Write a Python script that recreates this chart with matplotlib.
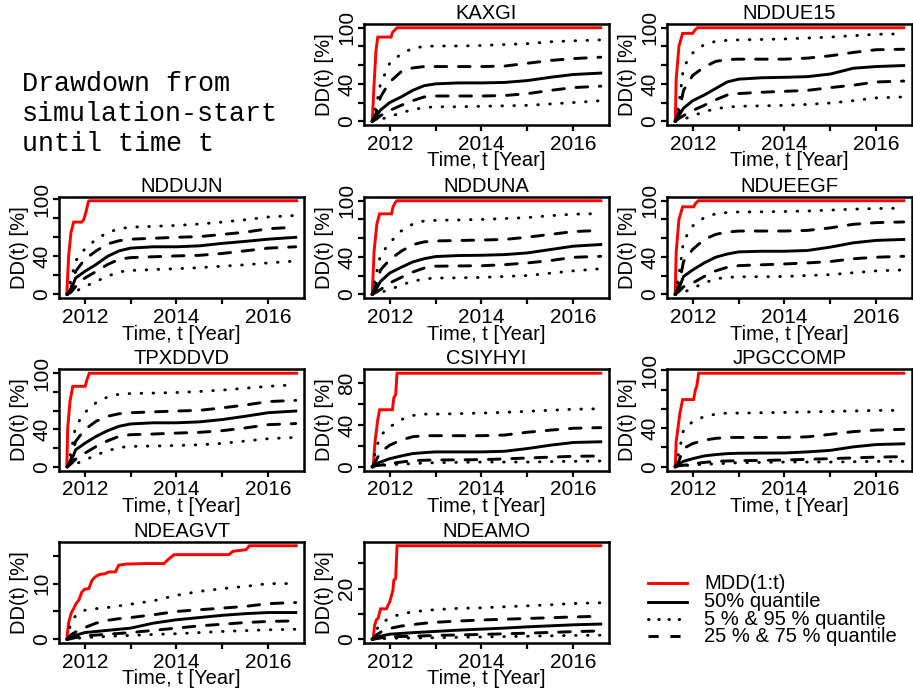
import matplotlib
matplotlib.use('Agg')
import matplotlib.pyplot as plt
from matplotlib.lines import Line2D

plt.rcParams['font.family'] = ['Liberation Sans', 'DejaVu Sans']

# ---------------- data ----------------
T = [2011.62, 2011.7, 2011.8, 2012.0, 2012.25, 2012.5, 2012.75, 2013.0,
     2013.5, 2014.0, 2014.5, 2015.0, 2015.5, 2016.0, 2016.6]

names = ["KAXGI", "NDDUE15", "NDDUJN", "NDDUNA", "NDUEEGF",
         "TPXDDVD", "CSIYHYI", "JPGCCOMP", "NDEAGVT", "NDEAMO"]

x_ticks = [2012, 2013, 2014, 2015, 2016]
x_labels = ["2012", "", "2014", "", "2016"]

# KAXGI
kaxgi_q05 = [0, 1, 2, 5, 9, 12.5, 14.5, 15.5, 15.5, 16, 16.5, 17, 18.5, 20, 22]
kaxgi_q25 = [0, 2, 6, 11.5, 17, 22, 26, 27, 27, 27, 27.5, 29.5, 33, 36, 37.5]
kaxgi_q50 = [0, 5, 12, 20, 26, 33, 38, 40, 41, 41, 41.5, 43.5, 47, 50, 51.5]
kaxgi_q75 = [0, 8, 26, 42, 53, 57, 58.5, 58.5, 58.5, 58.5, 59, 62, 65, 67, 68.5]
kaxgi_q95 = [0, 15, 40, 62, 72, 78, 80, 80.5, 80.5, 81, 82, 83, 85, 86, 87]
kaxgi_mdd_t = [2011.62, 2011.66, 2011.70, 2011.74, 2012.03, 2012.06, 2012.10, 2012.16, 2016.6]
kaxgi_mdd = [0, 40, 75, 90, 90, 95, 97, 100, 100]

# NDDUE15
nddue15_q05 = [0, 1, 2, 6, 10, 13.5, 15, 16, 16.5, 17, 18, 19.5, 22, 25, 26]
nddue15_q25 = [0, 3, 6, 11.5, 17, 23, 28, 29.6, 31, 32, 33, 36, 38.6, 42, 43]
nddue15_q50 = [0, 6, 14, 22, 28, 35, 42, 45, 46.5, 47, 47.7, 50.5, 56.7, 58.5, 59.6]
nddue15_q75 = [0, 10, 33, 49, 58, 64, 66, 66.4, 66.4, 66.4, 67.5, 70, 73.6, 76.5, 77]
nddue15_q95 = [0, 18, 58, 73, 82, 85.5, 86.5, 87, 87.5, 88, 89, 90, 91.5, 93, 93.5]
nddue15_mdd_t = [2011.62, 2011.64, 2011.70, 2011.78, 2012.0, 2012.04, 2012.10, 2016.6]
nddue15_mdd = [0, 45, 80, 94, 94, 97, 100, 100]

# NDDUJN
nddujn_q05 = [0, 1, 3, 8, 13.5, 19, 23.6, 25, 26, 27, 28, 29.6, 31, 33, 35]
nddujn_q25 = [0, 2, 8, 17, 24, 31.4, 36.8, 38.6, 39.5, 40.4, 41, 43, 45.7, 48.6, 50]
nddujn_q50 = [0, 4, 17, 24, 31.4, 40, 45.7, 48.6, 50, 50, 51, 53.6, 55.7, 58, 60]
nddujn_q75 = [0, 6, 24, 36.8, 45.7, 53, 56.4, 58, 59, 60, 60.7, 63, 65.4, 69, 70.7]
nddujn_q95 = [0, 15, 35, 47.5, 58, 65, 69, 70.7, 71.5, 72.5, 74, 76, 78.5, 81.4, 83]
nddujn_mdd_t = [2011.61, 2011.65, 2011.70, 2011.76, 2011.94, 2011.98, 2012.03, 2012.08, 2012.10, 2016.62]
nddujn_mdd = [0, 40, 65, 76, 76, 78.6, 87, 97.5, 98.5, 98.5]

# NDDUNA
ndduna_q05 = [0, 1, 2, 4.7, 10, 13.7, 16.5, 17.3, 17.6, 18, 19, 20, 22.5, 25, 27.3]
ndduna_q25 = [0, 2, 5, 12, 18, 23.7, 28, 30, 30.3, 30.5, 31.6, 33.5, 36, 39.5, 40.6]
ndduna_q50 = [0, 5, 13.7, 22.7, 28.8, 34.5, 38, 40.3, 41.4, 41.7, 42.4, 44.2, 47.8, 51.4, 53.2]
ndduna_q75 = [0, 10, 26, 37, 46, 53, 56, 57, 57.5, 58, 58.6, 61, 64, 67, 68.3]
ndduna_q95 = [0, 20, 42, 55, 67.6, 75, 78.4, 79, 79.5, 80, 81, 82, 84, 85.6, 86.3]
ndduna_mdd_t = [2011.62, 2011.66, 2011.72, 2011.78, 2012.04, 2012.07, 2012.12, 2012.16, 2016.6]
ndduna_mdd = [0, 46, 75, 86, 86, 93, 98, 100, 100]

# NDUEEGF
ndueegf_q05 = [0, 1, 2, 6.5, 12, 16.5, 18, 18.7, 18.8, 19, 20, 21, 23, 25, 26]
ndueegf_q25 = [0, 3, 8, 12, 19, 25, 28.8, 30.6, 31.5, 32.4, 33.5, 35, 38, 39.6, 40.6]
ndueegf_q50 = [0, 6, 19, 26, 33.5, 39.6, 43, 45.3, 46, 46, 46.8, 50.4, 55, 57.6, 58.6]
ndueegf_q75 = [0, 10, 35, 48, 58.6, 64, 66.5, 67.6, 67.6, 67.6, 68.3, 71, 74.8, 76.6, 77.3]
ndueegf_q95 = [0, 20, 57, 73, 82, 86, 87.4, 88, 88.2, 88.5, 89, 90, 91, 91.7, 92]
ndueegf_mdd_t = [2011.62, 2011.64, 2011.70, 2011.78, 2012.02, 2012.06, 2012.12, 2016.6]
ndueegf_mdd = [0, 45, 80, 93.5, 93.5, 97, 100, 100]

# TPXDDVD
tpxddvd_q05 = [0, 1, 3, 7, 12.6, 17, 20.6, 21.7, 22.2, 22.7, 23.5, 25, 27.5, 30, 31.4]
tpxddvd_q25 = [0, 3, 8, 14.4, 21.7, 27.8, 32.5, 34.3, 35, 36, 36.8, 38.6, 41.5, 45, 46.2]
tpxddvd_q50 = [0, 5, 18, 25, 32.5, 38.6, 43.3, 45.8, 47, 47, 48, 50.5, 54, 57.8, 59.6]
tpxddvd_q75 = [0, 8, 27, 39.7, 48.7, 54, 56.7, 57.8, 58.7, 59.6, 60.3, 63, 66, 69.7, 71]
tpxddvd_q95 = [0, 15, 43, 57.8, 68.6, 74.7, 77.6, 78.3, 78.8, 79.4, 80.5, 82, 84, 86, 87.7]
tpxddvd_mdd_t = [2011.61, 2011.63, 2011.68, 2011.74, 2012.01, 2012.05, 2012.10, 2016.62]
tpxddvd_mdd = [0, 41.5, 70, 86, 86, 93, 100, 100]

# CSIYHYI
csiyhyi_q05 = [0, 0.5, 1, 2, 2.5, 3, 3.5, 3.9, 4.2, 4.5, 4.5, 4.5, 4.9, 5.2, 5.5]
csiyhyi_q25 = [0, 1, 1.5, 3, 4.5, 5.8, 6.2, 6.5, 6.6, 6.8, 7.5, 8.4, 9.2, 10, 10.3]
csiyhyi_q50 = [0, 3, 4.5, 7.7, 10.3, 12.6, 13.5, 14.2, 14.2, 14.2, 14.8, 17.4, 20.6, 23.2, 23.9]
csiyhyi_q75 = [0, 6, 14, 20.6, 25.5, 28.7, 29.7, 29.7, 29.7, 29.7, 30.3, 33, 35, 36.8, 37.4]
csiyhyi_q95 = [0, 17, 30, 38, 45, 49, 50.3, 50.3, 50.8, 51.3, 52, 53, 54, 55, 55.5]
csiyhyi_mdd_t = [2011.64, 2011.68, 2011.74, 2011.78, 2012.06, 2012.09, 2012.13, 2012.16, 2016.6]
csiyhyi_mdd = [0, 24, 45, 54.5, 54.5, 66, 69, 89.4, 89.4]

# JPGCCOMP
jpgccomp_q05 = [0, 0.5, 1, 2, 2.5, 3, 3.6, 4.2, 4.5, 4.9, 4.9, 4.9, 5.2, 5.6, 5.6]
jpgccomp_q25 = [0, 1, 1.5, 3, 4.5, 5.6, 6, 6.3, 6.6, 7, 7.7, 8.4, 9.2, 10, 10.5]
jpgccomp_q50 = [0, 3, 5.6, 8.4, 11.2, 12.6, 13.6, 14, 14.2, 14.3, 15.4, 17, 20.6, 23, 23.8]
jpgccomp_q75 = [0, 6, 19, 24, 27.6, 29.4, 30.4, 30.4, 30.4, 30.4, 31, 33.6, 36.4, 38, 38.8]
jpgccomp_q95 = [0, 15, 38, 46.9, 52, 54.5, 55.6, 55.6, 56, 56.3, 56.8, 57.3, 57.8, 58.4, 58.4]
jpgccomp_mdd_t = [2011.62, 2011.64, 2011.72, 2011.78, 2012.02, 2012.06, 2012.09, 2012.13, 2016.6]
jpgccomp_mdd = [0, 26, 55, 69.6, 69.6, 80, 83.6, 96.9, 96.9]

# NDEAGVT
ndeagvt_q05 = [0, 0.05, 0.15, 0.3, 0.4, 0.5, 0.6, 0.7, 0.85, 1.0, 1.2, 1.4, 1.55, 1.7, 1.8]
ndeagvt_q25 = [0, 0.1, 0.3, 0.6, 0.75, 0.9, 1.05, 1.2, 1.6, 2.0, 2.4, 2.7, 3.0, 3.2, 3.3]
ndeagvt_q50 = [0, 0.3, 0.7, 1.2, 1.4, 1.6, 1.8, 2.0, 2.9, 3.5, 3.9, 4.3, 4.6, 4.8, 4.8]
ndeagvt_q75 = [0, 0.8, 1.3, 2.1, 2.9, 3.4, 3.7, 3.9, 4.4, 5.0, 5.3, 5.6, 5.9, 6.4, 6.6]
ndeagvt_q95 = [0, 3, 4.2, 5.2, 5.5, 5.7, 6.0, 6.3, 6.9, 7.9, 8.6, 9.1, 9.5, 10, 10]
ndeagvt_mdd_t = [2011.61, 2011.65, 2011.71, 2011.76, 2011.81, 2011.87, 2011.94, 2012.0, 2012.09,
                 2012.16, 2012.23, 2012.31, 2012.45, 2012.53, 2012.67, 2012.74, 2012.89, 2013.33,
                 2013.73, 2013.80, 2013.95, 2015.15, 2015.23, 2015.52, 2015.59, 2016.61]
ndeagvt_mdd = [0, 3, 4.8, 5.5, 6.4, 7, 8.5, 9, 9.1, 10.6, 11.2, 11.6, 11.8, 12.1, 12.1, 13.3,
               13.5, 13.6, 13.6, 14.2, 15.2, 15.2, 15.8, 16.1, 16.8, 16.8]

# NDEAMO
ndeamo_q05 = [0, 0.1, 0.2, 0.4, 0.45, 0.5, 0.55, 0.6, 0.75, 0.9, 1.05, 1.2, 1.35, 1.5, 1.6]
ndeamo_q25 = [0, 0.2, 0.5, 1.0, 1.1, 1.2, 1.35, 1.5, 1.7, 1.9, 2.15, 2.4, 2.7, 3.0, 3.3]
ndeamo_q50 = [0, 0.6, 1.2, 2.0, 2.3, 2.6, 2.85, 3.1, 3.6, 4.0, 4.4, 4.9, 5.3, 5.7, 6.0]
ndeamo_q75 = [0, 1.5, 2.8, 4.3, 5.2, 5.8, 6.3, 6.7, 7.2, 7.6, 7.9, 8.2, 8.5, 8.8, 9.1]
ndeamo_q95 = [0, 3.5, 6, 8.5, 10, 10.8, 11.3, 11.7, 12.2, 12.4, 12.8, 13.2, 13.6, 14.1, 14.4]
ndeamo_mdd_t = [2011.64, 2011.67, 2011.71, 2011.75, 2011.80, 2011.93, 2011.96, 2012.0, 2012.04,
                2012.07, 2012.09, 2012.13, 2012.16, 2016.6]
ndeamo_mdd = [0, 5.3, 7.7, 8.3, 12, 12, 13.3, 14.7, 17.3, 19.3, 23.3, 24, 36.9, 36.9]

# y tick values and which are labelled
yt_100 = [0, 20, 40, 60, 80, 100]
yl_100 = ["0", "", "40", "", "", "100"]
yt_80 = [0, 20, 40, 60, 80]
yl_80 = ["0", "", "40", "", "80"]
yt_15 = [0, 5, 10, 15]
yl_15 = ["0", "", "10", ""]
yt_30 = [0, 10, 20, 30]
yl_30 = ["0", "", "20", ""]

panels = [
    (kaxgi_mdd_t, kaxgi_mdd, kaxgi_q05, kaxgi_q25, kaxgi_q50, kaxgi_q75, kaxgi_q95, yt_100, yl_100),
    (nddue15_mdd_t, nddue15_mdd, nddue15_q05, nddue15_q25, nddue15_q50, nddue15_q75, nddue15_q95, yt_100, yl_100),
    (nddujn_mdd_t, nddujn_mdd, nddujn_q05, nddujn_q25, nddujn_q50, nddujn_q75, nddujn_q95, yt_100, yl_100),
    (ndduna_mdd_t, ndduna_mdd, ndduna_q05, ndduna_q25, ndduna_q50, ndduna_q75, ndduna_q95, yt_100, yl_100),
    (ndueegf_mdd_t, ndueegf_mdd, ndueegf_q05, ndueegf_q25, ndueegf_q50, ndueegf_q75, ndueegf_q95, yt_100, yl_100),
    (tpxddvd_mdd_t, tpxddvd_mdd, tpxddvd_q05, tpxddvd_q25, tpxddvd_q50, tpxddvd_q75, tpxddvd_q95, yt_100, yl_100),
    (csiyhyi_mdd_t, csiyhyi_mdd, csiyhyi_q05, csiyhyi_q25, csiyhyi_q50, csiyhyi_q75, csiyhyi_q95, yt_80, yl_80),
    (jpgccomp_mdd_t, jpgccomp_mdd, jpgccomp_q05, jpgccomp_q25, jpgccomp_q50, jpgccomp_q75, jpgccomp_q95, yt_100, yl_100),
    (ndeagvt_mdd_t, ndeagvt_mdd, ndeagvt_q05, ndeagvt_q25, ndeagvt_q50, ndeagvt_q75, ndeagvt_q95, yt_15, yl_15),
    (ndeamo_mdd_t, ndeamo_mdd, ndeamo_q05, ndeamo_q25, ndeamo_q50, ndeamo_q75, ndeamo_q95, yt_30, yl_30),
]

legend_labels = ["MDD(1:t)", "50% quantile", "5 % & 95 % quantile", "25 % & 75 % quantile"]
intro_text = "Drawdown from\nsimulation-start\nuntil time t"

# ---------------- layout ----------------
W, H = 913, 691
fig = plt.figure(figsize=(W / 100, H / 100), dpi=100)

cells = [(0, 1), (0, 2), (1, 0), (1, 1), (1, 2), (2, 0), (2, 1), (2, 2), (3, 0), (3, 1)]
col_left = [59, 364, 667]
row_top = [24, 197, 369.5, 542]
box_w, box_h = 245, 101
LW = 2.1
PX = 0.72  # points per pixel

dash_style = dict(dashes=(4, 4), dash_capstyle='round')
dot_style = dict(dashes=(0.2, 3.9), dash_capstyle='round')

for name, (r, c), p in zip(names, cells, panels):
    mt, mv, q05, q25, q50, q75, q95, yt, yl = p
    ax = fig.add_axes([col_left[c] / W, 1 - (row_top[r] + box_h) / H, box_w / W, box_h / H])
    ax.plot(mt, mv, color='#ff0000', lw=LW, solid_joinstyle='miter')
    ax.plot(T, q05, color='black', lw=LW, **dot_style)
    ax.plot(T, q95, color='black', lw=LW, **dot_style)
    ax.plot(T, q25, color='black', lw=LW, **dash_style)
    ax.plot(T, q75, color='black', lw=LW, **dash_style)
    ax.plot(T, q50, color='black', lw=LW)
    ymax = max(mv)
    ax.set_ylim(-0.04 * ymax, 1.04 * ymax)
    ax.set_xlim(2011.44, 2016.78)
    ax.set_xticks(x_ticks)
    ax.set_xticklabels(x_labels)
    ax.set_yticks(yt)
    ax.set_yticklabels(yl, rotation=90, va='center')
    for s in ax.spines.values():
        s.set_linewidth(1.8)
    ax.tick_params(direction='out', length=4, width=1.6, labelsize=15, pad=3)
    ax.tick_params(axis='y', pad=1.5)
    ax.annotate(name, xy=(0.5, 1), xycoords='axes fraction', xytext=(0, 10.5 * PX),
                textcoords='offset points', ha='center', va='center', fontsize=14.5)
    ax.annotate("Time, t [Year]", xy=(0.5, 0), xycoords='axes fraction', xytext=(0, -36 * PX),
                textcoords='offset points', ha='center', va='center', fontsize=14.5)
    ax.annotate("DD(t) [%]", xy=(0, 0.5), xycoords='axes fraction', xytext=(-40 * PX, 0),
                textcoords='offset points', ha='center', va='center', fontsize=14.5, rotation=90)

# intro text (anchor = baseline of last line)
fig.text(21.7 / W, 1 - 151 / H, intro_text, family='Liberation Mono', fontsize=19.3,
         ha='left', va='baseline', linespacing=1.2)

# legend (manual)
leg_y = [583.3, 601.7, 619.3, 636.0]
leg_styles = [dict(color='#ff0000'), dict(color='black'),
              dict(color='black', linestyle=(0, (0.2, 3.3)), dash_capstyle='round'),
              dict(color='black', linestyle=(0, (3.5, 4.0)))]
for yy, lab, st in zip(leg_y, legend_labels, leg_styles):
    fig.add_artist(Line2D([648 / W, 687 / W], [1 - yy / H, 1 - yy / H], lw=LW,
                          transform=fig.transFigure, **st))
    fig.text(704 / W, 1 - yy / H, lab, fontsize=14.5, ha='left', va='center')

fig.savefig("out.png", dpi=100)
